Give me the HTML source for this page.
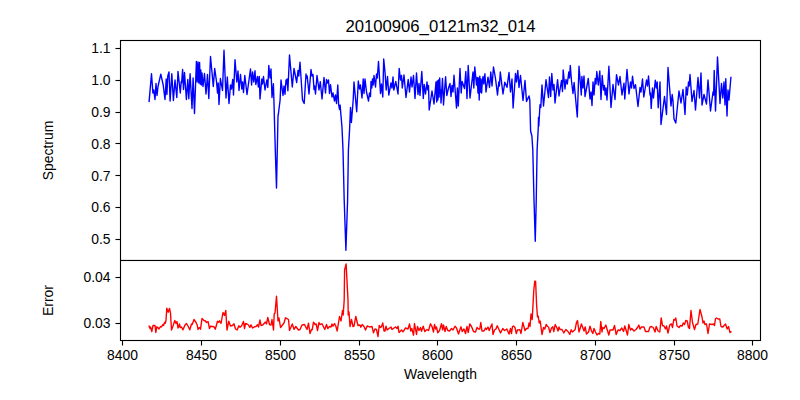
<!DOCTYPE html>
<html lang="en">
<head>
<meta charset="utf-8">
<title>20100906_0121m32_014</title>
<style>
html,body{margin:0;padding:0;background:#fff;font-family:"Liberation Sans",sans-serif;}
body{width:800px;height:400px;overflow:hidden;}
svg{display:block;}
</style>
</head>
<body>
<svg width="800" height="400" viewBox="0 0 800 400" role="img" aria-label="Spectrum and error versus wavelength for 20100906_0121m32_014">
<rect x="0" y="0" width="800" height="400" fill="#fff"/>
<polyline points="149.10,101.40 151.50,73.80 152.90,93.00 153.80,90.00 155.00,99.50 156.00,83.50 157.00,95.50 158.00,86.50 160.80,74.20 163.20,85.00 165.00,99.50 166.20,79.00 166.90,94.50 167.80,76.00 169.00,72.00 170.10,101.00 171.80,73.80 173.40,100.50 175.00,80.00 176.80,97.50 178.00,71.50 180.30,93.00 181.20,81.50 181.60,83.00 182.60,69.50 183.50,89.50 184.50,72.50 186.40,99.50 187.80,79.50 188.80,98.80 190.10,73.80 192.00,108.50 193.10,78.00 194.50,113.50 196.40,61.50 197.20,82.00 198.00,62.00 198.80,83.00 199.60,62.50 200.20,84.00 200.80,70.00 201.40,85.00 202.00,73.00 203.00,86.50 204.50,73.50 206.00,94.00 207.50,74.50 208.80,98.50 210.50,56.50 213.30,86.50 214.70,68.50 216.50,81.50 217.50,93.00 218.20,83.00 219.00,104.50 220.40,78.50 222.50,90.50 224.00,50.20 226.00,98.00 227.30,77.00 229.00,103.50 230.50,85.00 231.50,89.00 232.70,79.50 233.50,95.00 235.00,59.80 236.80,82.00 238.00,71.00 239.00,90.50 240.50,74.50 241.80,89.00 242.60,82.00 243.50,92.50 244.80,75.50 247.00,94.50 250.50,69.00 251.60,85.00 252.60,72.00 253.80,82.00 255.00,70.80 255.80,84.50 257.50,76.50 258.30,87.00 259.30,76.50 260.00,99.00 261.80,79.00 262.50,84.00 263.50,76.50 265.00,90.00 266.80,80.00 267.80,87.50 268.80,65.50 270.00,78.00 271.00,69.00 272.00,97.50 273.40,83.70 273.90,100.00 275.30,150.00 276.50,188.10 277.30,150.00 278.00,116.00 278.40,114.00 280.10,100.00 281.00,80.00 283.00,95.50 284.00,86.00 285.00,94.20 286.00,80.00 286.60,84.00 287.10,79.00 287.90,90.70 289.50,55.00 292.30,87.00 294.00,68.50 296.70,82.50 298.00,70.50 298.80,76.00 300.00,62.20 302.50,100.00 304.20,103.50 306.00,74.00 306.60,78.00 307.20,76.00 309.00,94.00 311.00,69.50 312.00,76.00 313.00,74.50 314.00,89.50 314.60,86.00 315.50,94.00 317.00,75.50 319.00,90.00 320.30,81.70 322.00,99.00 324.00,77.50 325.50,93.00 326.50,79.50 327.50,83.00 328.50,80.00 329.50,93.50 330.50,84.70 332.00,97.00 333.00,93.00 334.50,101.00 335.50,95.00 336.50,103.50 337.80,85.00 338.60,104.40 339.50,109.50 340.10,105.00 342.00,127.50 343.00,150.00 344.20,200.00 345.90,250.20 347.60,200.00 348.40,150.00 349.50,131.00 350.50,107.50 351.40,122.50 353.20,100.00 354.00,82.00 356.70,111.70 358.30,81.00 359.50,89.00 360.50,85.00 362.00,98.00 363.20,79.00 364.00,93.50 365.00,79.00 366.50,92.00 368.50,101.00 369.50,93.00 370.50,96.50 371.00,81.50 371.80,88.00 372.50,79.00 373.20,85.00 374.00,75.50 375.50,87.00 376.50,74.00 377.30,78.00 378.50,61.50 380.50,93.50 381.50,84.00 382.80,97.00 383.70,59.00 385.00,72.00 386.20,90.00 387.50,76.50 388.80,95.00 391.00,83.00 392.00,88.00 393.00,77.00 393.80,90.00 395.80,81.50 398.00,94.00 399.20,68.50 400.50,80.00 401.50,75.50 402.30,88.00 404.00,75.00 406.00,97.50 408.20,79.50 409.50,92.00 411.00,77.00 412.00,87.00 413.50,75.50 415.00,98.50 416.50,73.00 418.00,94.50 419.00,83.50 420.00,95.50 421.80,71.50 423.30,98.50 424.20,84.50 425.50,94.00 427.00,82.00 427.80,90.00 428.50,85.50 429.20,110.00 432.00,91.00 434.00,104.00 436.00,82.00 436.70,102.00 437.30,81.00 437.90,100.00 438.50,80.00 439.10,97.00 439.70,78.00 440.30,93.00 440.60,90.00 441.00,103.00 442.50,78.50 443.50,105.00 445.60,76.70 446.80,95.50 448.50,88.00 450.00,83.50 451.00,96.50 452.00,85.50 453.00,92.00 454.00,75.20 456.50,108.00 457.40,88.00 458.30,106.00 460.00,68.50 461.20,93.00 462.10,81.50 464.50,88.50 465.80,71.50 467.00,98.50 468.20,65.50 470.00,98.00 473.00,72.00 473.80,88.00 474.80,67.00 476.50,85.00 477.30,77.50 478.00,93.00 478.60,78.00 479.20,100.00 479.80,76.20 480.40,92.00 481.00,79.00 481.60,93.00 482.30,82.00 483.00,76.50 483.80,84.00 484.90,73.70 486.00,92.00 488.00,77.20 489.50,87.50 490.80,72.00 492.00,86.00 493.50,67.00 495.50,78.50 497.50,95.00 498.80,82.00 499.40,86.00 500.30,72.00 503.00,94.00 504.80,82.30 507.00,87.30 509.00,72.50 510.50,92.00 512.00,79.00 513.10,108.00 515.50,73.50 516.50,82.00 517.80,70.50 519.00,87.50 520.50,75.50 523.00,100.50 525.00,80.50 526.50,101.50 529.00,96.00 529.80,100.00 530.60,131.00 531.90,136.00 532.80,150.00 534.00,200.00 535.25,241.30 536.25,200.00 537.10,150.00 538.30,127.00 538.50,117.50 538.80,126.00 540.00,104.70 540.80,107.50 542.00,85.00 543.50,106.00 545.00,91.00 546.00,79.70 548.50,97.50 549.50,77.00 550.70,96.50 551.80,73.50 553.00,90.00 554.00,84.50 555.00,103.00 557.60,79.70 559.00,96.00 561.50,80.50 562.50,91.50 563.20,70.00 565.00,89.00 566.00,79.50 567.30,84.00 568.80,72.00 569.50,78.00 570.30,65.50 571.50,81.00 573.00,93.50 574.10,82.50 577.30,117.00 579.00,66.20 581.30,95.00 581.90,76.50 583.00,88.00 584.00,76.00 585.00,96.50 588.30,78.50 590.00,99.00 591.00,92.00 592.00,105.50 593.00,82.00 594.00,95.00 595.20,78.50 596.00,84.00 596.80,71.50 598.30,85.00 599.80,71.00 601.00,99.50 602.20,75.50 603.50,90.00 604.40,85.50 605.20,95.00 606.00,88.00 607.00,100.00 608.90,66.20 611.00,107.50 613.00,84.50 615.00,99.50 616.50,74.70 618.50,85.00 620.00,76.50 622.00,95.00 624.00,83.20 624.80,99.00 627.00,69.50 629.00,94.00 630.50,82.00 631.50,88.00 632.50,76.20 634.00,88.50 635.50,84.70 638.00,106.50 640.00,87.50 641.00,92.00 642.50,79.00 643.80,97.00 646.50,80.00 647.50,86.00 648.50,76.00 650.00,95.00 650.50,93.00 651.20,108.50 652.50,88.00 653.50,98.00 655.30,80.20 656.30,88.00 657.20,82.00 658.20,107.80 660.00,82.00 661.00,124.50 664.50,96.50 666.50,114.50 668.00,67.50 671.00,106.00 672.20,94.50 673.00,101.00 674.00,119.00 675.80,123.00 679.00,91.00 681.00,103.00 683.00,89.50 685.00,114.50 686.20,87.00 687.30,95.00 688.50,82.00 689.20,86.00 690.00,74.50 692.00,101.50 694.00,90.50 695.50,110.00 698.00,77.50 699.50,98.00 701.00,73.00 702.00,105.00 704.00,94.50 706.50,104.00 708.00,80.00 710.50,111.00 713.00,92.00 713.60,95.00 714.20,70.50 715.50,111.00 717.50,57.00 720.00,103.50 721.50,83.50 722.80,98.00 724.00,82.00 725.00,105.00 725.80,78.80 727.00,116.00 728.00,90.00 729.00,100.00 730.90,77.50" fill="none" stroke="#0000ff" stroke-width="1.389" stroke-linejoin="round" stroke-linecap="square"/>
<polyline points="149.10,326.20 150.00,328.50 150.50,327.00 151.80,331.50 153.00,325.50 155.00,325.50 155.80,332.50 156.80,326.80 157.80,327.50 159.00,329.00 160.50,326.50 161.50,327.00 162.80,324.50 163.50,325.50 164.50,322.50 165.20,323.20 166.00,320.50 166.80,308.20 168.20,312.20 169.50,308.50 170.50,313.00 171.50,330.00 173.00,326.00 174.80,320.50 176.00,323.50 177.00,321.50 178.00,328.00 179.50,324.00 180.20,327.50 181.50,327.00 183.00,329.80 185.00,325.00 186.50,323.50 188.00,326.00 189.80,329.80 191.50,324.00 192.20,324.50 194.00,319.50 196.00,322.50 197.20,325.00 198.00,329.50 199.20,327.50 200.50,329.20 202.00,318.50 204.00,320.50 205.50,321.00 206.50,322.50 208.00,321.50 209.50,328.50 210.50,326.20 214.00,326.80 215.30,329.20 217.50,321.30 218.50,322.30 219.50,320.80 221.00,323.50 223.00,312.50 224.50,315.50 225.80,310.50 227.00,330.00 228.80,321.20 230.50,326.00 232.50,325.50 234.00,323.80 235.50,329.00 237.20,330.00 238.80,325.80 240.00,327.20 241.50,326.00 243.50,321.50 244.50,328.50 245.50,323.50 247.00,324.00 248.50,325.00 249.80,327.50 251.00,324.80 252.50,328.00 254.50,326.80 256.00,326.50 257.50,324.80 258.50,327.00 260.00,320.00 261.00,325.50 263.00,324.80 265.50,322.00 266.50,324.00 267.80,317.50 269.50,324.50 271.00,325.00 272.00,319.50 273.50,330.00 274.20,314.00 275.00,313.00 276.50,296.20 278.00,321.00 279.00,318.00 280.50,327.50 284.00,323.00 285.50,317.80 288.50,319.50 289.50,330.50 292.30,324.00 294.00,329.30 295.80,326.50 298.50,330.00 300.00,329.50 302.00,325.00 304.50,324.50 307.00,329.50 308.50,323.20 310.00,333.50 311.50,329.50 312.20,329.80 313.50,322.20 315.00,324.50 316.20,324.00 317.50,330.50 319.00,322.50 320.00,324.50 322.00,323.80 324.80,329.50 326.50,324.50 327.80,328.50 329.50,326.50 331.00,327.00 332.00,324.00 333.00,326.20 334.50,323.50 335.80,326.00 337.20,331.00 339.50,316.50 341.00,321.00 342.50,310.50 343.20,315.00 344.20,300.00 344.60,270.00 346.10,263.90 348.00,300.00 348.20,315.00 349.00,312.00 350.00,326.50 351.50,319.50 353.00,326.50 354.00,326.20 355.80,316.50 358.00,325.50 360.00,325.00 360.80,327.20 362.20,324.50 364.00,326.50 365.50,330.00 367.30,325.90 369.50,327.00 372.00,326.50 373.50,332.80 375.00,329.00 376.50,329.50 378.00,336.50 379.20,325.50 380.50,327.50 381.50,326.80 382.80,323.00 384.00,331.00 385.00,331.00 386.00,326.20 387.20,330.00 389.00,328.50 391.00,327.00 392.00,329.50 394.00,328.00 395.50,327.00 397.00,328.50 398.00,326.20 399.00,332.50 401.50,330.00 403.00,331.80 405.50,328.00 408.00,329.00 409.50,324.00 410.80,331.00 411.80,328.50 413.50,335.20 414.50,323.50 415.50,329.00 416.50,334.50 417.50,326.50 419.00,330.50 420.50,327.50 421.50,331.20 423.20,326.20 424.80,331.50 427.00,329.50 428.50,330.50 430.50,323.80 432.00,326.50 433.50,332.00 434.50,324.50 435.80,329.00 436.50,327.00 437.80,332.80 439.50,330.50 441.50,323.70 442.60,329.80 443.50,325.00 445.00,331.50 446.20,326.50 447.80,330.50 449.50,331.00 451.50,328.50 453.00,330.00 455.00,326.20 456.50,328.00 458.50,334.00 460.00,329.50 461.00,326.80 462.20,331.50 464.00,329.00 465.50,333.50 467.00,326.50 468.20,332.50 469.80,324.00 471.50,326.50 473.50,331.50 475.50,332.00 477.00,327.50 478.50,329.00 479.80,329.00 480.80,322.50 482.00,331.00 484.00,331.00 485.50,328.00 486.50,329.50 488.00,327.00 489.20,330.50 490.80,326.50 492.00,324.00 493.00,334.50 494.50,330.00 496.00,329.00 497.20,325.80 499.00,329.50 500.50,333.00 502.80,328.50 504.50,330.50 506.80,329.00 509.00,334.00 510.50,328.50 511.50,333.50 512.50,326.50 513.50,326.00 515.00,327.50 516.30,333.50 517.50,330.00 519.80,329.60 521.00,333.50 522.80,322.50 525.00,330.50 526.50,328.50 528.00,328.50 529.00,323.00 530.00,326.50 531.00,314.00 532.20,319.50 533.00,305.00 533.80,290.00 534.80,281.20 535.60,281.20 536.60,305.00 537.50,317.00 538.20,316.00 539.20,323.00 540.20,321.00 542.00,334.50 543.50,327.50 544.80,329.00 546.20,324.50 547.50,326.50 548.50,327.00 550.00,332.50 551.50,328.00 552.80,326.80 553.80,331.50 555.20,324.50 556.50,327.00 558.00,331.00 559.00,327.00 560.00,329.50 562.00,329.50 563.80,333.00 565.80,329.50 568.00,331.50 569.80,334.50 571.20,329.80 572.50,332.00 575.00,329.80 576.50,322.50 577.50,320.50 579.00,332.00 581.50,324.00 584.00,331.00 585.20,327.00 586.50,334.00 588.50,332.00 590.00,326.20 591.50,331.00 592.80,333.50 594.00,328.50 595.50,332.00 597.00,335.00 598.50,333.50 599.80,334.00 600.80,321.50 602.00,332.00 602.80,327.50 604.00,328.50 605.80,325.00 607.00,329.00 608.80,335.00 610.00,330.00 613.00,330.00 614.50,325.50 616.20,334.50 618.00,330.00 620.00,330.50 621.80,328.00 623.50,331.50 624.80,326.00 626.00,330.00 627.50,335.00 628.80,324.50 630.50,330.00 631.80,328.50 634.00,331.00 636.00,329.50 637.50,327.50 638.80,325.00 640.00,329.00 641.50,327.00 644.00,327.00 645.50,331.50 648.50,331.50 650.00,327.00 651.50,326.50 653.20,327.50 655.00,332.00 656.20,326.50 658.00,331.00 659.80,332.00 661.20,317.90 662.50,325.50 664.00,326.00 665.50,329.00 666.50,326.00 668.00,333.00 669.80,324.80 671.50,324.00 672.50,327.50 673.80,319.50 675.00,320.00 675.80,318.00 677.00,326.00 679.00,327.50 680.50,325.50 682.20,326.00 683.20,323.00 684.50,324.50 685.80,320.50 687.20,321.00 688.50,327.50 689.50,328.50 691.00,310.50 692.50,322.50 694.50,329.50 696.00,324.50 697.80,324.00 700.00,309.50 702.00,317.00 703.00,323.00 704.00,321.00 705.00,324.50 706.50,324.00 708.00,333.50 709.50,324.00 712.00,324.50 713.50,324.00 714.50,325.50 715.50,318.50 716.50,318.00 718.00,319.00 719.80,319.00 721.00,326.50 722.80,327.00 725.50,324.00 727.20,329.00 728.50,326.50 730.00,332.50 730.90,331.80" fill="none" stroke="#ff0000" stroke-width="1.389" stroke-linejoin="round" stroke-linecap="square"/>
<rect x="120.5" y="40.5" width="640" height="300" fill="none" stroke="#000" stroke-width="1.111" stroke-linejoin="miter"/>
<g fill="#000" stroke="none">
<rect x="121" y="259.889" width="639" height="1.166"/>
<rect x="115.5" y="47.944" width="4.5" height="1.111"/>
<rect x="115.5" y="79.944" width="4.5" height="1.111"/>
<rect x="115.5" y="111.944" width="4.5" height="1.111"/>
<rect x="115.5" y="142.944" width="4.5" height="1.111"/>
<rect x="115.5" y="174.944" width="4.5" height="1.111"/>
<rect x="115.5" y="206.944" width="4.5" height="1.111"/>
<rect x="115.5" y="238.944" width="4.5" height="1.111"/>
<rect x="115.5" y="276.944" width="4.5" height="1.111"/>
<rect x="115.5" y="322.944" width="4.5" height="1.111"/>
<rect x="121.944" y="341" width="1.111" height="4.5"/>
<rect x="200.944" y="341" width="1.111" height="4.5"/>
<rect x="279.944" y="341" width="1.111" height="4.5"/>
<rect x="358.944" y="341" width="1.111" height="4.5"/>
<rect x="436.944" y="341" width="1.111" height="4.5"/>
<rect x="515.944" y="341" width="1.111" height="4.5"/>
<rect x="594.944" y="341" width="1.111" height="4.5"/>
<rect x="673.944" y="341" width="1.111" height="4.5"/>
<rect x="751.944" y="341" width="1.111" height="4.5"/>
</g>
<g fill="#000" stroke="none" font-family="'Liberation Sans', sans-serif" font-size="13.9">
<text x="110.5" y="244.0" font-size="13.9" text-anchor="end">0.5</text>
<text x="110.5" y="212.2" font-size="13.9" text-anchor="end">0.6</text>
<text x="110.5" y="180.5" font-size="13.9" text-anchor="end">0.7</text>
<text x="110.5" y="148.7" font-size="13.9" text-anchor="end">0.8</text>
<text x="110.5" y="116.9" font-size="13.9" text-anchor="end">0.9</text>
<text x="110.5" y="85.2" font-size="13.9" text-anchor="end">1.0</text>
<text x="110.5" y="53.4" font-size="13.9" text-anchor="end">1.1</text>
<text transform="translate(53.1 150.5) rotate(-90)" font-size="13.9" text-anchor="middle">Spectrum</text>
<text x="440.5" y="31.7" font-size="16.7" text-anchor="middle">20100906_0121m32_014</text>
<text x="122.5" y="360.3" font-size="13.9" text-anchor="middle">8400</text>
<text x="201.5" y="360.3" font-size="13.9" text-anchor="middle">8450</text>
<text x="280.5" y="360.3" font-size="13.9" text-anchor="middle">8500</text>
<text x="359.5" y="360.3" font-size="13.9" text-anchor="middle">8550</text>
<text x="437.5" y="360.3" font-size="13.9" text-anchor="middle">8600</text>
<text x="516.5" y="360.3" font-size="13.9" text-anchor="middle">8650</text>
<text x="595.5" y="360.3" font-size="13.9" text-anchor="middle">8700</text>
<text x="674.5" y="360.3" font-size="13.9" text-anchor="middle">8750</text>
<text x="752.5" y="360.3" font-size="13.9" text-anchor="middle">8800</text>
<text x="440.5" y="379.3" font-size="13.9" text-anchor="middle">Wavelength</text>
<text x="110.5" y="328.0" font-size="13.9" text-anchor="end">0.03</text>
<text x="110.5" y="282.3" font-size="13.9" text-anchor="end">0.04</text>
<text transform="translate(53.1 300.5) rotate(-90)" font-size="13.9" text-anchor="middle">Error</text>
</g>
</svg>
</body>
</html>
